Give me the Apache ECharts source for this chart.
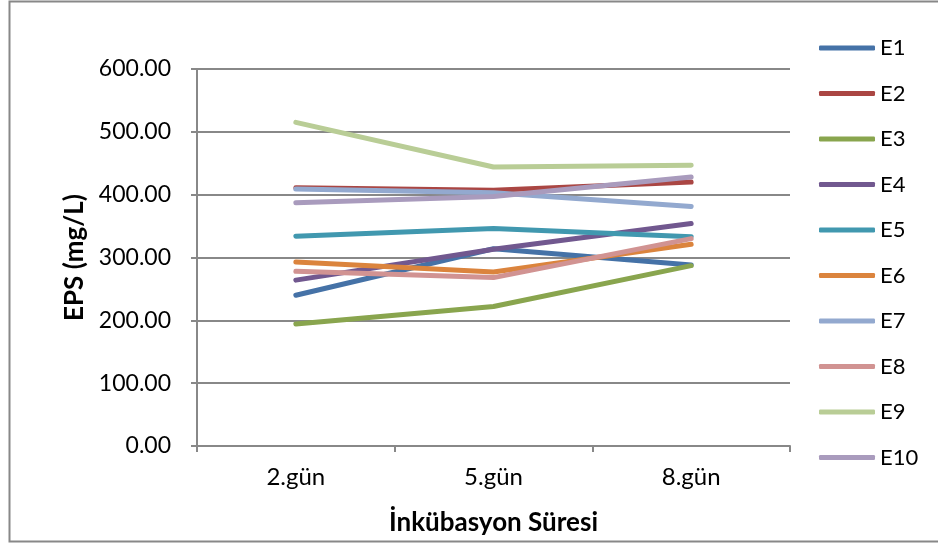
<!DOCTYPE html>
<html>
<head>
<meta charset="utf-8">
<script src="https://cdn.jsdelivr.net/npm/echarts@6/dist/echarts.min.js"></script>
<style>html,body{margin:0;padding:0;background:#fff}#c{width:938px;height:545px}</style>
</head>
<body>
<div id="c"></div>
<script>
const categories = ['2.gün', '5.gün', '8.gün'];
const seriesNames = ['E1','E2','E3','E4','E5','E6','E7','E8','E9','E10'];
const E1 = [240, 314, 288];
const E2 = [411, 407, 420];
const E3 = [194, 222, 287];
const E4 = [264, 313, 354];
const E5 = [334, 346, 333];
const E6 = [293, 277, 321];
const E7 = [409, 403, 381];
const E8 = [278, 268, 330];
const E9 = [515, 444, 447];
const E10 = [387, 397, 428];
const values = [E1,E2,E3,E4,E5,E6,E7,E8,E9,E10];
const colors = ['#4572A7','#AA4643','#89A54E','#71588F','#4198AF','#DB843D','#93A9CF','#D19392','#B9CD96','#A99BBD'];
const yTicks = [0, 100, 200, 300, 400, 500, 600];

const FONT = 'Lato';
const chart = echarts.init(document.getElementById('c'), null, {renderer: 'canvas'});
chart.setOption({
  backgroundColor: '#fff',
  animation: false,
  color: colors,
  graphic: [{
    type: 'rect', silent: true, z: -1,
    shape: {x: 9.5, y: 1.5, width: 940, height: 540},
    style: {fill: 'none', stroke: '#888', lineWidth: 2}
  }],
  grid: {left: 197, top: 69, right: 148, bottom: 99, containLabel: false},
  legend: {
    orient: 'vertical', left: 814, top: 32,
    icon: 'roundRect', itemWidth: 56, itemHeight: 5, itemGap: 23.5,
    textStyle: {fontFamily: FONT, fontSize: 22, color: '#000', lineHeight: 22, padding: [0,0,0,0]},
    data: seriesNames
  },
  xAxis: {
    type: 'category', data: categories, boundaryGap: true,
    name: 'İnkübasyon Süresi', nameLocation: 'middle', nameGap: 64,
    nameTextStyle: {fontFamily: FONT, fontSize: 26, fontWeight: 'bold', color: '#000'},
    axisLine: {lineStyle: {color: '#888', width: 2}},
    axisTick: {show: true, length: 6, alignWithLabel: false, lineStyle: {color: '#888', width: 2}},
    axisLabel: {fontFamily: FONT, fontSize: 24, color: '#000', margin: 19},
    splitLine: {show: false}
  },
  yAxis: {
    type: 'value', min: yTicks[0], max: yTicks[yTicks.length-1], interval: 100,
    name: 'EPS (mg/L)', nameLocation: 'middle', nameGap: 107, nameRotate: 90,
    nameTextStyle: {fontFamily: FONT, fontSize: 26, fontWeight: 'bold', color: '#000'},
    axisLine: {show: true, lineStyle: {color: '#888', width: 2}},
    axisTick: {show: true, length: 6, lineStyle: {color: '#888', width: 2}},
    axisLabel: {fontFamily: FONT, fontSize: 23, color: '#000', margin: 26, formatter: v => v.toFixed(2)},
    splitLine: {show: true, lineStyle: {color: '#888', width: 2}}
  },
  series: seriesNames.map((n, i) => ({
    name: n, type: 'line', data: values[i],
    showSymbol: false, symbol: 'none',
    lineStyle: {width: 5, color: colors[i], cap: 'round', join: 'round'},
    itemStyle: {color: colors[i]}
  }))
});
</script>
</body>
</html>
